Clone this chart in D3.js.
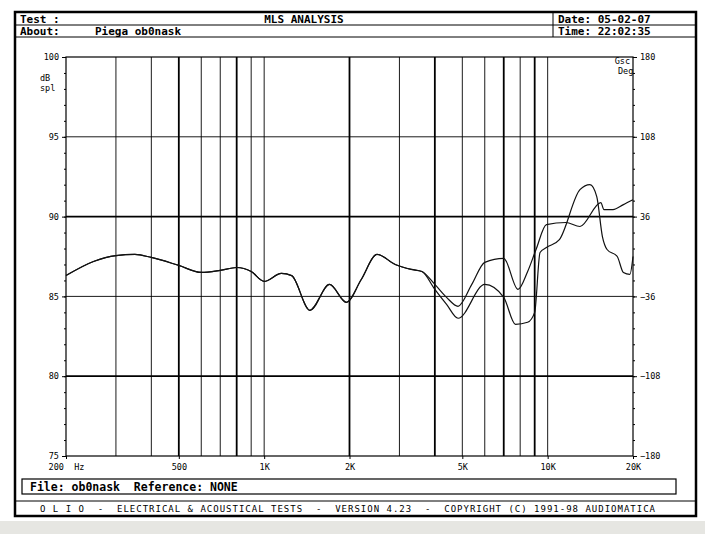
<!DOCTYPE html>
<html><head><meta charset="utf-8">
<script src="https://cdn.jsdelivr.net/npm/d3@7"></script>
<style>body{margin:0;background:#fff}svg{display:block}text{white-space:pre}</style>
</head><body>
<script>
const commonF=[200,250,300,350,400,500,600,700,800,900,1000,1150,1250,1450,1700,1950,2200,2500,2900,3300,3600];
const commonDb=[86.31,87.19,87.56,87.63,87.44,86.94,86.5,86.63,86.81,86.56,85.94,86.44,86.3,84.13,85.75,84.63,86.06,87.63,87,86.69,86.56];
const s1F=[4000,4400,4830,5400,6000,7000,7860,8500,9100,9900,11600,13000,15400,15800,17000,18500,20000];
const s1Db=[85.75,84.94,84.38,85.75,87.13,87.38,85.44,86.56,87.94,89.5,89.63,89.38,90.88,90.44,90.44,90.75,91.06];
const s2F=[4000,4400,4830,6000,7000,7700,8500,9000,9400,9900,11000,13000,14100,14900,15600,16200,17600,18500,19500,20000];
const s2Db=[85.44,84.5,83.63,85.75,84.94,83.25,83.38,84,87.75,88.06,88.56,91.69,92,91.25,88.75,87.94,87.5,86.5,86.38,87.5];
const yTicks=[100,95,90,85,80,75];
const phaseTicks=[180,108,36,-36,-108,-180];
const xLabels=[[200,"200  Hz"],[500,"500"],[1000,"1K"],[2000,"2K"],[5000,"5K"],[10000,"10K"],[20000,"20K"]];
const gridF=[300,400,500,600,700,800,900,1000,2000,3000,4000,5000,6000,7000,8000,9000,10000];
const thickF=[500,800,2000,4000,7000,9000];

const W=705,H=534,F="'DejaVu Sans Mono',monospace";
const svg=d3.select("body").append("svg").attr("width",W).attr("height",H);
svg.append("rect").attr("x",0).attr("y",0).attr("width",W).attr("height",H).attr("fill","#fff");
svg.append("rect").attr("x",0).attr("y",521).attr("width",W).attr("height",13).attr("fill","#e6e6e2");
svg.append("rect").attr("x",15).attr("y",12).attr("width",681).attr("height",504).attr("fill","none").attr("stroke","#000").attr("stroke-width",2.5);
const ln=(x1,y1,x2,y2,w)=>svg.append("line").attr("x1",x1).attr("y1",y1).attr("x2",x2).attr("y2",y2).attr("stroke","#000").attr("stroke-width",w||1);
ln(15,25,696,25);ln(15,37,696,37);ln(553,12,553,37);ln(15,501,696,501);
const txt=(x,y,s,a,sz,wt)=>svg.append("text").attr("x",x).attr("y",y).attr("text-anchor",a||"start").attr("font-family",F).attr("font-size",sz||11).attr("font-weight",wt||"bold").text(s);
txt(20,23,"Test :");txt(304,23,"MLS ANALYSIS","middle");txt(558,23,"Date: 05-02-07");
txt(20,35,"About:");txt(95,35,"Piega ob0nask");txt(558,35,"Time: 22:02:35");
svg.append("rect").attr("x",22).attr("y",479).attr("width",654).attr("height",15).attr("fill","none").attr("stroke","#000").attr("stroke-width",1.2);
txt(30,491,"File: ob0nask  Reference: NONE","start",11.5);
svg.append("text").attr("x",40).attr("y",512).attr("textLength",615).attr("lengthAdjust","spacing").attr("font-family",F).attr("font-size",9).text("O L I O  -  ELECTRICAL & ACOUSTICAL TESTS  -  VERSION 4.23  -  COPYRIGHT (C) 1991-98 AUDIOMATICA");

const x=d3.scaleLog().domain([200,20000]).range([66,633]);
const y=d3.scaleLinear().domain([75,100]).range([456,57]);
const yp=d3.scaleLinear().domain([-180,180]).range([456,57]);
const g=svg.append("g");
gridF.forEach(f=>g.append("line").attr("x1",x(f)).attr("x2",x(f)).attr("y1",57).attr("y2",456).attr("stroke","#000").attr("stroke-width",thickF.includes(f)?1.8:0.9));
[95,90,85,80].forEach(v=>g.append("line").attr("x1",66).attr("x2",633).attr("y1",y(v)).attr("y2",y(v)).attr("stroke","#000").attr("stroke-width",(v==90||v==80)?1.8:0.9));
g.append("rect").attr("x",66).attr("y",57).attr("width",567).attr("height",399).attr("fill","none").attr("stroke","#000").attr("stroke-width",1.2);
const la=svg.append("g").attr("transform","translate(66,0)").call(d3.axisLeft(y).tickValues(yTicks).tickSize(4).tickFormat(d3.format("d")));
const la2=svg.append("g").attr("transform","translate(66,0)").call(d3.axisLeft(y).tickValues(d3.range(75,101,1)).tickSize(2).tickFormat(""));
const ra=svg.append("g").attr("transform","translate(633,0)").call(d3.axisRight(yp).tickValues(phaseTicks).tickSize(4).tickFormat(d3.format("d")));
const ra2=svg.append("g").attr("transform","translate(633,0)").call(d3.axisRight(yp).tickValues(d3.range(-180,181,14.4)).tickSize(2).tickFormat(""));
const ba=svg.append("g").attr("transform","translate(0,456)").call(d3.axisBottom(x).tickValues(xLabels.map(d=>d[0])).tickSize(3).tickFormat(d=>xLabels.find(e=>e[0]==d)[1]));
[la,la2,ra,ra2,ba].forEach(a=>{a.select(".domain").remove();a.selectAll("text").attr("font-family",F).attr("font-size",8.5);});
ba.selectAll("text").attr("dy","0.9em");
txt(40,81,"dB","start",8.5,"normal");txt(40,91,"spl","start",8.5,"normal");
txt(630,64,"Gsc","end",8.5,"normal");txt(618,74,"Deg","start",8.5,"normal");
const line=d3.line().x(d=>x(d[0])).y(d=>y(d[1])).curve(d3.curveMonotoneX);
const c=commonF.map((f,i)=>[f,commonDb[i]]);
const d1=c.concat(s1F.map((f,i)=>[f,s1Db[i]]));
const d2=c.concat(s2F.map((f,i)=>[f,s2Db[i]]));
[d1,d2].forEach(d=>svg.append("path").attr("d",line(d)).attr("fill","none").attr("stroke","#111").attr("stroke-width",1.2));
</script></body></html>
